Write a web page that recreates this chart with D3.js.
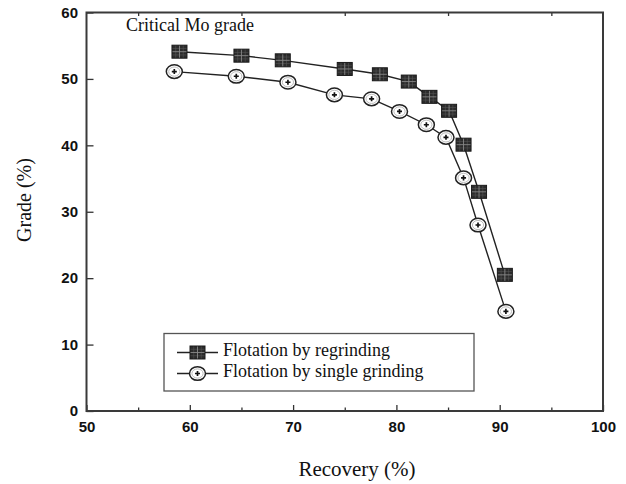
<html lang="en">

<head>
  <meta charset="utf-8">
  <title>Grade vs recovery</title>
  <script type="text/javascript" src="https://d3js.org/d3.v7.min.js"></script>
  <style>
    body { margin: 0; background: #fff; }
  </style>
</head>

<body>
  <script type="text/javascript">
    const width = 626;
    const height = 484;

    // data
    const regrindRecovery = [59.0, 65.0, 69.0, 75.0, 78.4, 81.2, 83.2, 85.1, 86.5, 88.0, 90.5];
    const regrindGrade = [54.1, 53.5, 52.8, 51.5, 50.7, 49.6, 47.3, 45.2, 40.1, 33.0, 20.5];
    const singleRecovery = [58.5, 64.5, 69.5, 74.0, 77.6, 80.3, 82.9, 84.8, 86.5, 87.9, 90.6];
    const singleGrade = [51.1, 50.4, 49.5, 47.6, 47.0, 45.1, 43.1, 41.2, 35.1, 28.0, 15.0];
    const seriesNames = ["Flotation by regrinding", "Flotation by single grinding"];
    const xTicks = [50, 60, 70, 80, 90, 100];
    const xMinorTicks = [55, 65, 75, 85, 95];
    const yTicks = [0, 10, 20, 30, 40, 50, 60];

    const regrind = regrindRecovery.map((x, i) => ({ x: x, y: regrindGrade[i] }));
    const single = singleRecovery.map((x, i) => ({ x: x, y: singleGrade[i] }));

    const svg = d3.select("body").append("svg").attr("width", width).attr("height", height);

    const xScale = d3.scaleLinear().domain([50, 100]).range([86.5, 603]);
    const yScale = d3.scaleLinear().domain([0, 60]).range([411, 12.5]);

    const tickFont = "'Liberation Sans', Arial, sans-serif";
    const serif = "'Liberation Serif', 'Times New Roman', serif";

    // bottom axis, ticks pointing in
    svg.append("g")
      .attr("transform", `translate(0,${yScale(0)})`)
      .call(d3.axisBottom(xScale).tickValues(xTicks).tickSize(-6).tickPadding(10).tickFormat(d3.format("d")));
    svg.append("g")
      .attr("transform", `translate(0,${yScale(0)})`)
      .call(d3.axisBottom(xScale).tickValues(xMinorTicks).tickSize(-3.5).tickFormat(""));
    svg.append("g")
      .attr("transform", `translate(0,${yScale(60)})`)
      .call(d3.axisTop(xScale).tickValues(xMinorTicks).tickSize(-3.5).tickFormat(""));
    svg.append("g")
      .attr("transform", `translate(${xScale(50)},0)`)
      .call(d3.axisLeft(yScale).tickValues(yTicks).tickSize(-7).tickPadding(8.5));

    svg.selectAll(".domain").remove();
    svg.selectAll(".tick line").attr("stroke", "#333").attr("stroke-width", 1.3);
    svg.selectAll(".tick text")
      .attr("fill", "#111")
      .style("font-family", tickFont)
      .style("font-size", "15px")
      .style("font-weight", "bold");

    // frame
    svg.append("rect")
      .attr("x", xScale(50))
      .attr("y", yScale(60))
      .attr("width", xScale(100) - xScale(50))
      .attr("height", yScale(0) - yScale(60))
      .attr("fill", "none")
      .attr("stroke", "#3a3a3a")
      .attr("stroke-width", 2);

    // axis titles
    svg.append("text")
      .attr("x", 357)
      .attr("y", 476)
      .attr("text-anchor", "middle")
      .style("font-family", serif)
      .style("font-size", "21px")
      .attr("fill", "#111")
      .text("Recovery (%)");
    svg.append("text")
      .attr("transform", "translate(31,200) rotate(-90)")
      .attr("text-anchor", "middle")
      .style("font-family", serif)
      .style("font-size", "20px")
      .attr("fill", "#111")
      .text("Grade (%)");

    svg.append("text")
      .attr("x", 126)
      .attr("y", 31)
      .style("font-family", serif)
      .style("font-size", "18px")
      .attr("fill", "#111")
      .text("Critical Mo grade");

    const line = d3.line().x(d => xScale(d.x)).y(d => yScale(d.y));

    svg.append("path").datum(single).attr("d", line)
      .attr("fill", "none").attr("stroke", "#222").attr("stroke-width", 1.4);
    svg.append("path").datum(regrind).attr("d", line)
      .attr("fill", "none").attr("stroke", "#222").attr("stroke-width", 1.4);

    function squareMark(g) {
      g.append("rect")
        .attr("x", -7.5).attr("y", -6.5).attr("width", 15).attr("height", 13)
        .attr("fill", "#2b2b2b").attr("stroke", "#1a1a1a").attr("stroke-width", 1);
      g.append("path")
        .attr("d", "M-3.75,-6 V6 M3.75,-6 V6 M-7,-3.25 H7 M-7,3.25 H7")
        .attr("stroke", "#555").attr("stroke-width", 0.6).attr("fill", "none");
      g.append("path")
        .attr("d", "M0,-6 V6 M-7,0 H7")
        .attr("stroke", "#888").attr("stroke-width", 0.9).attr("fill", "none");
    }

    function circleMark(g) {
      g.append("ellipse")
        .attr("rx", 8).attr("ry", 6.8)
        .attr("fill", "#fff").attr("stroke", "#222").attr("stroke-width", 1.5);
      g.append("ellipse")
        .attr("rx", 5.6).attr("ry", 4.6)
        .attr("fill", "#fff").attr("stroke", "#bbb").attr("stroke-width", 1);
      g.append("path")
        .attr("d", d3.symbol().type(d3.symbolCross).size(14))
        .attr("fill", "#111");
    }

    svg.selectAll(".single")
      .data(single)
      .enter()
      .append("g")
      .attr("class", "single")
      .attr("transform", d => `translate(${xScale(d.x)},${yScale(d.y)})`)
      .each(function () { circleMark(d3.select(this)); });

    svg.selectAll(".regrind")
      .data(regrind)
      .enter()
      .append("g")
      .attr("class", "regrind")
      .attr("transform", d => `translate(${xScale(d.x)},${yScale(d.y)})`)
      .each(function () { squareMark(d3.select(this)); });

    // legend
    const legend = svg.append("g");
    legend.append("rect")
      .attr("x", 164).attr("y", 333.5).attr("width", 310).attr("height", 57.5)
      .attr("fill", "#fff").attr("stroke", "#555").attr("stroke-width", 1.3);

    const rows = [{ y: 352.5, mark: squareMark }, { y: 373.5, mark: circleMark }];
    rows.forEach((r, i) => {
      legend.append("line")
        .attr("x1", 177).attr("x2", 218).attr("y1", r.y).attr("y2", r.y)
        .attr("stroke", "#222").attr("stroke-width", 1.4);
      r.mark(legend.append("g").attr("transform", `translate(197.5,${r.y})`));
      legend.append("text")
        .attr("x", 223)
        .attr("y", r.y + 3)
        .style("font-family", serif)
        .style("font-size", "18px")
        .attr("fill", "#111")
        .text(seriesNames[i]);
    });
  </script>
</body>

</html>
